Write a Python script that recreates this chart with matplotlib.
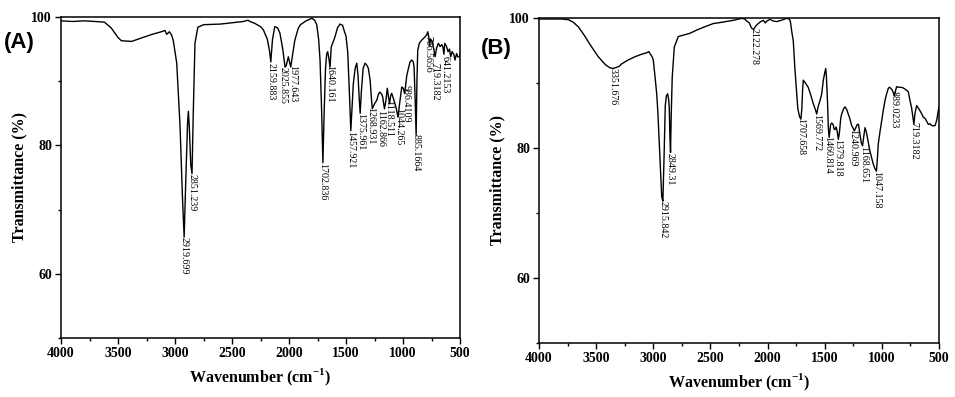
import numpy as np
import matplotlib
matplotlib.use("Agg")
from matplotlib import pyplot as plt
from matplotlib.ticker import MultipleLocator

plt.rcParams["mathtext.fontset"] = "custom"
plt.rcParams["mathtext.rm"] = "Liberation Serif"
plt.rcParams["mathtext.bf"] = "Liberation Serif:bold"

# spectrum (A)
wn_a = [4000, 3900, 3800, 3700, 3620, 3560, 3500, 3470, 3380, 3300, 3200, 3120, 3088, 3073, 3050,
        3030, 3015, 2985, 2956, 2935, 2920, 2905, 2890, 2883, 2875, 2862, 2851, 2840, 2825, 2800,
        2750, 2600, 2500, 2400, 2360, 2342, 2300, 2250, 2225, 2190, 2170, 2160, 2145, 2125, 2100,
        2080, 2055, 2035, 2025, 2006, 1995, 1985, 1970, 1950, 1920, 1900, 1850, 1800, 1775, 1757,
        1740, 1728, 1715, 1703, 1692, 1680, 1670, 1661, 1650, 1640, 1630, 1610, 1597, 1575, 1553,
        1530, 1515, 1500, 1485, 1470, 1458, 1445, 1436, 1420, 1406, 1395, 1385, 1376, 1365, 1350,
        1333, 1318, 1304, 1289, 1275, 1269, 1250, 1231, 1215, 1202, 1185, 1178, 1163, 1150, 1138,
        1128, 1118, 1108, 1099, 1079, 1060, 1044, 1030, 1011, 998, 986, 976, 967, 950, 939,
        924, 910, 903, 895, 885, 878, 871, 857, 836, 807, 793, 783, 775, 767, 760,
        745, 730, 719, 705, 690, 675, 660, 650, 641, 634, 620, 605, 592, 582, 570,
        555, 544, 530, 520, 506, 500]
tr_a = [99.4, 99.3, 99.4, 99.3, 99.2, 98.3, 96.8, 96.3, 96.2, 96.7, 97.3, 97.7, 97.9, 97.3, 97.7,
        97.2, 96.3, 92.8, 83.0, 72.0, 65.7, 75.0, 83.5, 85.3, 83.0, 77.0, 75.6, 85.0, 95.9, 98.4,
        98.8, 98.9, 99.1, 99.3, 99.5, 99.3, 99.0, 98.5, 98.0, 96.5, 94.6, 93.0, 96.5, 98.5, 98.3,
        97.5, 95.0, 92.2, 92.4, 93.8, 93.0, 92.2, 94.0, 96.3, 98.2, 98.8, 99.4, 99.8, 99.5, 98.8,
        96.5, 93.3, 86.0, 77.3, 85.0, 92.0, 94.2, 94.6, 93.5, 92.2, 95.3, 96.3, 96.9, 98.3, 98.9,
        98.7, 97.8, 97.0, 94.5, 88.0, 82.3, 86.5, 89.6, 92.0, 92.8, 91.0, 87.5, 85.0, 88.5, 92.0,
        92.8, 92.5, 92.0, 90.2, 86.8, 85.7, 86.5, 87.0, 88.0, 88.3, 87.9, 87.5, 85.7, 87.0, 88.9,
        87.6, 86.5, 87.8, 88.1, 87.0, 85.8, 84.4, 86.5, 89.1, 88.9, 88.1, 89.5, 90.9, 92.2, 93.0,
        93.3, 93.0, 92.2, 88.0, 81.6, 90.0, 94.8, 95.9, 96.4, 96.9, 97.2, 97.7, 97.0, 95.5, 96.6,
        96.2, 95.0, 93.8, 95.2, 95.9, 95.4, 95.7, 95.3, 94.2, 95.9, 95.5, 94.6, 95.0, 93.8, 94.6,
        94.2, 93.3, 94.3, 93.8, 93.8, 94.2]
peaks_a = ["2919.699", "2851.239", "2159.883", "2025.855", "1977.643", "1702.836", "1640.161",
           "1457.921", "1375.961", "1268.931", "1162.866", "1118.511", "1044.265", "986.4109",
           "885.1664", "766.5656", "719.3182", "641.2153"]
peak_tr_a = [65.7, 75.6, 92.8, 92.2, 92.5, 77.3, 92.5, 82.2, 85.0, 86.0, 85.5, 87.0, 85.8, 89.4,
             81.8, 97.0, 92.9, 94.0]

# spectrum (B)
wn_b = [4000, 3900, 3800, 3743, 3700, 3656, 3600, 3569, 3520, 3481, 3420, 3380, 3351, 3300, 3277,
        3220, 3160, 3100, 3058, 3040, 3029, 3010, 3000, 2985, 2970, 2960, 2947, 2935, 2926, 2916,
        2905, 2895, 2885, 2874, 2866, 2860, 2855, 2849, 2843, 2834, 2816, 2781, 2722, 2680, 2620,
        2550, 2475, 2400, 2300, 2227, 2200, 2183, 2160, 2140, 2122, 2100, 2081, 2060, 2037, 2020,
        2005, 1979, 1950, 1920, 1880, 1833, 1810, 1800, 1785, 1775, 1760, 1751, 1735, 1720, 1708,
        1700, 1693, 1687, 1670, 1644, 1620, 1600, 1580, 1570, 1555, 1540, 1526, 1512, 1500, 1491,
        1485, 1475, 1468, 1461, 1455, 1448, 1438, 1426, 1418, 1410, 1400, 1390, 1380, 1370, 1360,
        1351, 1335, 1322, 1305, 1294, 1280, 1264, 1250, 1241, 1230, 1215, 1204, 1195, 1180, 1169,
        1160, 1147, 1135, 1120, 1104, 1090, 1075, 1060, 1047, 1040, 1031, 1015, 1001, 985, 972,
        958, 944, 935, 924, 910, 900, 889, 880, 870, 850, 830, 812, 795, 780, 768,
        754, 740, 730, 719, 710, 695, 680, 666, 650, 637, 620, 605, 593, 580, 560,
        535, 520, 506, 500]
tr_b = [99.8, 99.8, 99.8, 99.7, 99.3, 98.6, 97.2, 96.3, 95.0, 94.0, 92.8, 92.3, 92.2, 92.5, 92.9,
        93.5, 94.0, 94.4, 94.6, 94.8, 94.5, 94.0, 93.5, 91.0, 88.3, 85.5, 80.6, 76.0, 72.5, 71.8,
        79.0, 86.5, 88.0, 88.3, 87.5, 86.2, 82.0, 79.3, 85.0, 90.9, 95.5, 97.1, 97.4, 97.6, 98.1,
        98.6, 99.1, 99.3, 99.6, 99.9, 99.8, 99.5, 99.2, 98.4, 98.2, 98.8, 99.1, 99.4, 99.6, 99.2,
        99.5, 99.75, 99.5, 99.4, 99.6, 99.9, 99.8, 99.4, 97.5, 96.5, 92.0, 89.8, 86.0, 84.8, 84.4,
        86.0, 89.0, 90.4, 90.0, 89.3, 88.0, 86.8, 85.8, 85.2, 86.5, 87.3, 88.3, 90.4, 91.5, 92.2,
        91.0, 87.0, 83.0, 81.6, 82.5, 83.6, 83.8, 83.6, 82.9, 82.8, 83.2, 82.5, 81.3, 82.5, 84.5,
        85.2, 86.0, 86.3, 85.8, 85.2, 84.5, 83.4, 83.0, 82.6, 83.0, 83.6, 83.6, 82.5, 80.8, 80.3,
        81.5, 83.1, 82.4, 81.0, 79.5, 78.5, 77.5, 76.8, 76.4, 78.0, 80.6, 82.6, 84.2, 86.0, 87.3,
        88.3, 89.1, 89.3, 89.2, 88.9, 88.5, 88.0, 88.8, 89.4, 89.3, 89.3, 89.2, 89.0, 88.8, 88.6,
        87.3, 86.2, 85.0, 83.6, 85.3, 86.5, 86.1, 85.7, 85.2, 84.7, 84.5, 84.0, 83.6, 83.7, 83.4,
        83.4, 84.2, 85.7, 86.2]
peaks_b = ["3351.676", "2915.842", "2849.31", "2122.278", "1707.658", "1569.772", "1460.814",
           "1379.818", "1240.969", "1168.651", "1047.158", "889.0233", "719.3182"]
peak_tr_b = [92.2, 71.8, 79.2, 98.4, 84.6, 85.2, 81.8, 81.4, 82.9, 80.3, 76.4, 88.8, 83.9]

# sideways nudges (in cm-1) so crowded labels sit like in the original
nudge_a = {"2025.855": 28, "1977.643": -12, "1457.921": 6, "1268.931": 18,
           "1162.866": 34, "1118.511": 6, "1044.265": -6, "986.4109": -12,
           "766.5656": 18, "641.2153": -10}
nudge_b = {"1460.814": 14, "1379.818": 4, "1240.969": 18, "1168.651": -6}

serif = "Liberation Serif"


def draw_panel(ax, wn, tr, peaks, peak_tr, nudge, tag, tag_xy):
    ax.plot(wn, tr, color="black", lw=1.0)
    for p, t in zip(peaks, peak_tr):
        ax.text(float(p) + nudge.get(p, 0), t, p, rotation=-90, ha="center", va="top",
                fontsize=7.2, family=serif)
    ax.set_xlim(4000, 500)
    ax.set_ylim(50, 100)
    ax.xaxis.set_major_locator(MultipleLocator(500))
    ax.xaxis.set_minor_locator(MultipleLocator(250))
    ax.yaxis.set_minor_locator(MultipleLocator(10))
    ax.set_yticks([60, 80, 100])
    ax.tick_params(which="both", direction="out", top=False, right=False, width=1)
    ax.tick_params(which="major", length=4.5, pad=2)
    ax.tick_params(which="minor", length=2.5)
    for lab in ax.get_xticklabels() + ax.get_yticklabels():
        lab.set_family(serif)
        lab.set_fontweight("bold")
        lab.set_fontsize(10)
    for s in ax.spines.values():
        s.set_linewidth(1.1)
    ax.set_xlabel("Wavenumber (cm$^{\\mathbf{-1}}$)", family=serif, fontweight="bold",
                  fontsize=11.5, labelpad=5)
    ax.set_ylabel("Transmittance (%)", family=serif, fontweight="bold", fontsize=11.5,
                  labelpad=3)
    ax.figure.text(tag_xy[0], tag_xy[1], tag, fontsize=16, fontweight="bold",
                   family="Liberation Sans", ha="left", va="center")


fig = plt.figure(figsize=(9.55, 3.97), dpi=100)
ax_a = fig.add_axes([0.0639, 0.1486, 0.4178, 0.8086])
ax_b = fig.add_axes([0.5644, 0.1360, 0.4188, 0.8194])

draw_panel(ax_a, wn_a, tr_a, peaks_a, peak_tr_a, nudge_a, "(A)", (0.004, 0.892))
draw_panel(ax_b, wn_b, tr_b, peaks_b, peak_tr_b, nudge_b, "(B)", (0.504, 0.877))

fig.savefig("out.png", dpi=100)
